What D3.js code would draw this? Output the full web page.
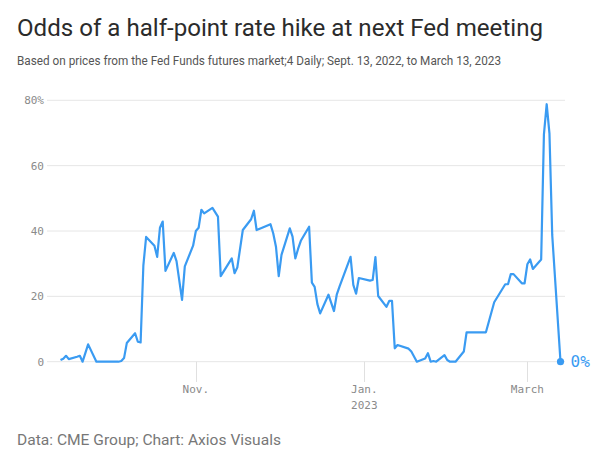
<!DOCTYPE html>
<html>
<head>
<meta charset="utf-8">
<script src="https://cdn.jsdelivr.net/npm/d3@7"></script>
<style>
  html, body { margin: 0; padding: 0; background: #fff; }
  svg { display: block; }
</style>
</head>
<body>
<svg id="chart" width="600" height="459"></svg>
<script>
// ---- Data ----
const dates = [
  "2022-09-13","2022-09-14","2022-09-15","2022-09-16","2022-09-19","2022-09-20","2022-09-21","2022-09-23",
  "2022-09-26","2022-10-04","2022-10-05","2022-10-06","2022-10-07","2022-10-10","2022-10-11","2022-10-12",
  "2022-10-13","2022-10-14","2022-10-17","2022-10-18","2022-10-19","2022-10-20","2022-10-21","2022-10-24",
  "2022-10-25","2022-10-27","2022-10-28","2022-10-31","2022-11-01","2022-11-02","2022-11-03","2022-11-04",
  "2022-11-07","2022-11-09","2022-11-10","2022-11-14","2022-11-15","2022-11-16","2022-11-18","2022-11-21",
  "2022-11-22","2022-11-23","2022-11-25","2022-11-28","2022-11-29","2022-11-30","2022-12-01","2022-12-02",
  "2022-12-05","2022-12-06","2022-12-07","2022-12-08","2022-12-09","2022-12-12","2022-12-13","2022-12-14",
  "2022-12-15","2022-12-16","2022-12-19","2022-12-20","2022-12-21","2022-12-22","2022-12-23","2022-12-27",
  "2022-12-28","2022-12-29","2022-12-30","2023-01-03","2023-01-04","2023-01-05","2023-01-06","2023-01-09",
  "2023-01-10","2023-01-11","2023-01-12","2023-01-13","2023-01-17","2023-01-18","2023-01-20","2023-01-23",
  "2023-01-24","2023-01-25","2023-01-26","2023-01-27","2023-01-30","2023-01-31","2023-02-01","2023-02-02",
  "2023-02-03","2023-02-06","2023-02-07","2023-02-08","2023-02-09","2023-02-10","2023-02-13","2023-02-14",
  "2023-02-17","2023-02-21","2023-02-22","2023-02-23","2023-02-24","2023-02-27","2023-02-28","2023-03-01",
  "2023-03-02","2023-03-03","2023-03-06","2023-03-07","2023-03-08","2023-03-09","2023-03-10","2023-03-13"
];
const odds = [
  0.5, 0.9, 1.8, 0.8, 1.5, 1.8, 0, 5.3,
  0, 0, 0.2, 1.1, 5.7, 8.7, 6.1, 5.9,
  29.5, 38.2, 35.5, 32.1, 41.0, 42.9, 27.8, 33.3,
  30.8, 18.9, 29.2, 35.5, 40.0, 41.0, 46.5, 45.4,
  47.1, 44.4, 26.2, 31.6, 27.1, 28.8, 40.3, 43.6,
  46.2, 40.3, 41.0, 42.1, 39.3, 35.2, 26.2, 32.7,
  40.8, 38.3, 31.6, 34.5, 37.0, 41.3, 24.2, 22.9,
  17.6, 14.8, 20.5, 18.0, 15.5, 20.5, 23.0, 32.1,
  23.5, 20.8, 25.6, 24.8, 25.0, 32.0, 20.1, 16.8,
  18.6, 18.6, 4.1, 5.1, 4.0, 3.1, 0, 1.0,
  2.6, 0, 0.2, 0, 2.0, 0.5, 0, 0,
  0, 3.1, 9.0, 9.0, 9.0, 9.0, 9.0, 9.0,
  18.2, 23.7, 23.7, 26.8, 26.8, 24.0, 24.0, 29.8,
  31.3, 28.4, 31.3, 69.6, 78.8, 69.9, 38.8, 0
];
const yTicks = [0, 20, 40, 60, 80];
const xTickDates = ["2022-11-01", "2023-01-01", "2023-03-01"];
const xTickLabels = ["Nov.", "Jan.", "March"];
const xTickSubLabels = ["", "2023", ""];

const titleText = "Odds of a half-point rate hike at next Fed meeting";
const subtitleText = "Based on prices from the Fed Funds futures market;4 Daily; Sept. 13, 2022, to March 13, 2023";
const footerText = "Data: CME Group; Chart: Axios Visuals";
const endLabel = "0%";

// ---- Drawing ----
const parse = d3.utcParse("%Y-%m-%d");
const data = dates.map((d, i) => ({ date: parse(d), value: odds[i] }));

const svg = d3.select("#chart");
const blue = "#3a9bf2";
const mono = "'DejaVu Sans Mono', 'Liberation Mono', monospace";
const sans = "'Roboto', 'Liberation Sans', Arial, sans-serif";

const x = d3.scaleUtc()
  .domain([parse("2022-09-13"), parse("2023-03-13")])
  .range([60.5, 560.5]);
const y = d3.scaleLinear().domain([0, 80]).range([361.7, 100.3]);

const gridX0 = 47, gridX1 = 565;

// Title, subtitle
svg.append("text")
  .attr("x", 17).attr("y", 36)
  .attr("font-family", sans).attr("font-size", 23).attr("fill", "#2b2b2b")
  .attr("textLength", 526).attr("lengthAdjust", "spacingAndGlyphs")
  .text(titleText);

svg.append("text")
  .attr("x", 17).attr("y", 65)
  .attr("font-family", sans).attr("font-size", 12).attr("fill", "#555")
  .attr("textLength", 484).attr("lengthAdjust", "spacingAndGlyphs")
  .text(subtitleText);

// Gridlines + y labels
const gy = svg.append("g");
gy.selectAll("line").data(yTicks).join("line")
  .attr("x1", gridX0).attr("x2", gridX1)
  .attr("y1", d => y(d)).attr("y2", d => y(d))
  .attr("stroke", "#e6e6e6").attr("stroke-width", 1);
gy.selectAll("text").data(yTicks).join("text")
  .attr("x", 44).attr("y", d => y(d)).attr("dy", "0.35em")
  .attr("text-anchor", "end")
  .attr("font-family", mono).attr("font-size", 11).attr("fill", "#8a8a8a")
  .text(d => d === 80 ? d + "%" : d);

// X ticks
const xt = svg.append("g");
const tickData = xTickDates.map((d, i) => ({ date: parse(d), label: xTickLabels[i], sub: xTickSubLabels[i] }));
xt.selectAll("line").data(tickData).join("line")
  .attr("x1", d => Math.round(x(d.date)) + 0.5).attr("x2", d => Math.round(x(d.date)) + 0.5)
  .attr("y1", y(0)).attr("y2", 382)
  .attr("stroke", "#e0e0e0").attr("stroke-width", 1);
xt.selectAll("text.main").data(tickData).join("text")
  .attr("class", "main")
  .attr("x", d => x(d.date)).attr("y", 393)
  .attr("text-anchor", "middle")
  .attr("font-family", mono).attr("font-size", 11).attr("fill", "#8a8a8a")
  .text(d => d.label);
xt.selectAll("text.sub").data(tickData.filter(d => d.sub)).join("text")
  .attr("class", "sub")
  .attr("x", d => x(d.date)).attr("y", 409)
  .attr("text-anchor", "middle")
  .attr("font-family", mono).attr("font-size", 11).attr("fill", "#8a8a8a")
  .text(d => d.sub);

// Line
const line = d3.line().x(d => x(d.date)).y(d => y(d.value));
svg.append("path").datum(data)
  .attr("d", line)
  .attr("fill", "none").attr("stroke", blue)
  .attr("stroke-width", 2.2).attr("stroke-linejoin", "round");

// End dot and label
const last = data[data.length - 1];
svg.append("circle")
  .attr("cx", x(last.date)).attr("cy", y(last.value)).attr("r", 3.6)
  .attr("fill", blue);
svg.append("text")
  .attr("x", x(last.date) + 10).attr("y", y(last.value)).attr("dy", "0.35em")
  .attr("font-family", mono).attr("font-size", 16).attr("fill", blue)
  .text(endLabel);

// Footer
svg.append("text")
  .attr("x", 17).attr("y", 445)
  .attr("font-family", sans).attr("font-size", 14.5).attr("fill", "#777")
  .attr("textLength", 264).attr("lengthAdjust", "spacingAndGlyphs")
  .text(footerText);
</script>
</body>
</html>
